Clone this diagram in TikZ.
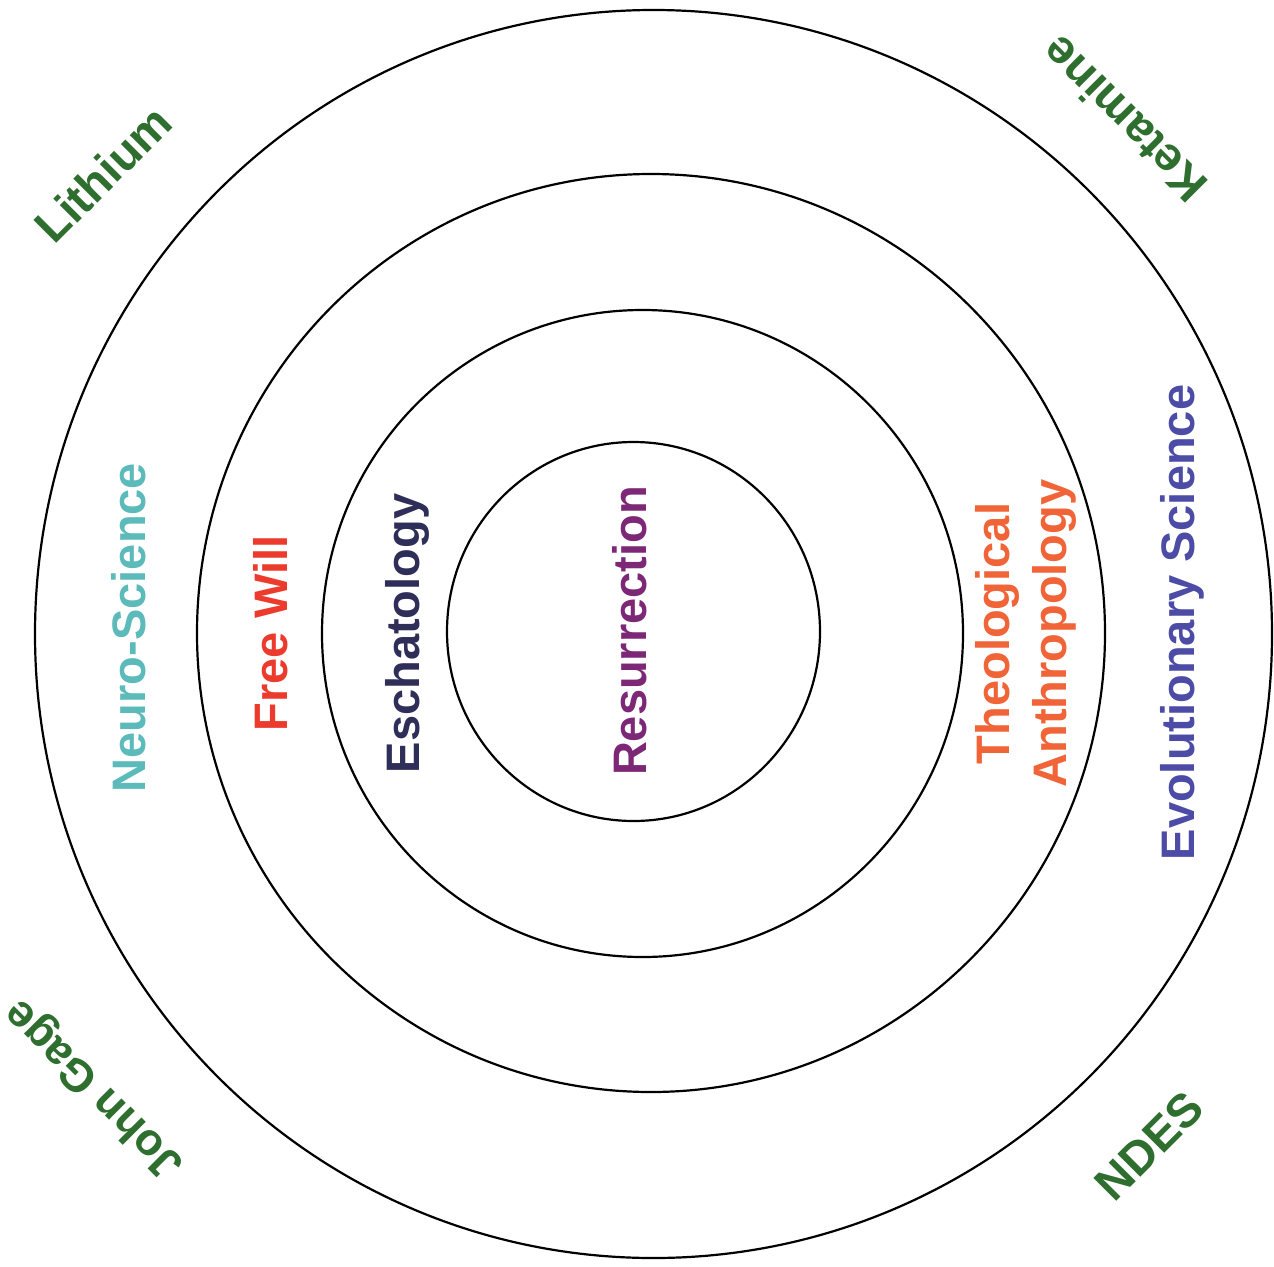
\documentclass[tikz,border=0pt]{standalone}
\usepackage{fontspec}
\setmainfont{Liberation Sans}
\definecolor{cneuro}{RGB}{92,186,186}
\definecolor{cfree}{RGB}{236,58,44}
\definecolor{cesch}{RGB}{46,46,88}
\definecolor{cres}{RGB}{124,40,118}
\definecolor{ctheo}{RGB}{240,100,56}
\definecolor{cevo}{RGB}{76,76,166}
\definecolor{cgreen}{RGB}{46,110,46}
\begin{document}
\begin{tikzpicture}[x=1pt,y=-1pt,
  ring/.style={draw=black, line width=2.2pt},
  lbl/.style={inner sep=0pt, font=\fontsize{47}{57}\selectfont\bfseries, align=center},
  vlbl/.style={lbl, rotate=90},
  glbl/.style={lbl, text=cgreen}]
\useasboundingbox (0,0) rectangle (1274,1266);
\fill[white] (0,0) rectangle (1274,1266);
% rings
\draw[ring] (653.5,634) ellipse [x radius=618.5pt, y radius=624pt];
\draw[ring] (651,633) ellipse [x radius=454pt, y radius=459pt];
\draw[ring] (642.5,633.5) ellipse [x radius=320.5pt, y radius=323.5pt];
\draw[ring] (633.5,631.5) ellipse [x radius=186.5pt, y radius=189.5pt];
% ring labels
\node[vlbl, text=cneuro] (neuro) at (129,627.5) {Neuro-Science};
\node[vlbl, text=cfree] (free) at (271,633.5) {Free Will};
\node[vlbl, text=cesch] (esch) at (407.5,633.5) {Eschatology};
\node[vlbl, text=cres] (res) at (629.5,631) {Resurrection};
\node[vlbl, text=ctheo] (theo) at (1026,633.5) {Theological\\Anthropology};
\node[vlbl, text=cevo] (evo) at (1182,622.5) {Evolutionary Science};
% corner labels
\node[glbl, rotate=45] (lith) at (103,174) {Lithium};
\node[glbl, rotate=135] (ket) at (1124,120) {Ketamine};
\node[glbl, rotate=135, font=\fontsize{45}{54}\selectfont\bfseries] (john) at (95,1088) {John Gage};
\node[glbl, rotate=45] (ndes) at (1149,1146) {NDES};
\end{tikzpicture}
\end{document}
